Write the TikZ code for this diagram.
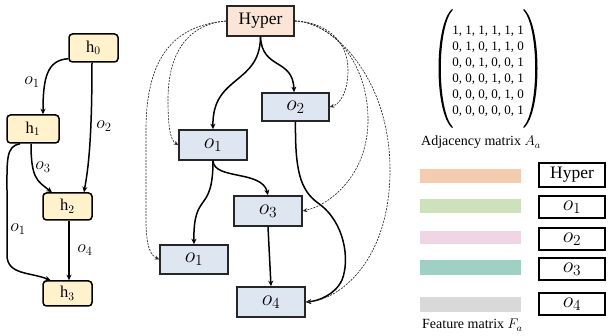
\RequirePackage{fix-cm}
\documentclass[tikz,border=0pt]{standalone}
\usepackage{fontspec}
\setmainfont{Liberation Serif}
\usetikzlibrary{arrows.meta}
\definecolor{hfill}{HTML}{FFF2CC}
\definecolor{hyperfill}{HTML}{FBE5D6}
\definecolor{ofill}{HTML}{DEE7F1}
\definecolor{barorange}{HTML}{F4CDB0}
\definecolor{bargreen}{HTML}{CDE2BC}
\definecolor{barpink}{HTML}{F0D6E4}
\definecolor{barteal}{HTML}{9ED0C4}
\definecolor{bargray}{HTML}{D9D9D9}
\begin{document}
\begin{tikzpicture}[x=1pt,y=-1pt,
  hbox/.style={draw=black, fill=hfill, rounded corners=3.5pt, line width=1.5pt, inner sep=0pt,
    minimum width=49pt, minimum height=27pt, font=\fontsize{16.5}{19}\selectfont},
  obox/.style={draw=black!85, fill=ofill, line width=1.6pt, inner sep=0pt,
    minimum width=68pt, minimum height=29pt, font=\fontsize{22}{26}\selectfont},
  hyperbox/.style={obox, fill=hyperfill, minimum width=67pt, minimum height=30pt,
    font=\fontsize{17.5}{20}\selectfont},
  featbox/.style={draw=black, fill=white, line width=1.5pt, inner sep=0pt,
    minimum width=66pt, minimum height=22pt, font=\fontsize{22}{26}\selectfont},
  elabel/.style={inner sep=0pt, font=\fontsize{18}{21}\selectfont},
  txt/.style={inner sep=0pt, anchor=base west, font=\fontsize{14}{17}\selectfont},
  arr/.style={line width=1.5pt, -{Stealth[length=5.5pt,width=5pt]}},
  darr/.style={draw=black!85, line width=0.65pt, dash pattern=on 2pt off 1.2pt,
    -{Stealth[length=4.5pt,width=4pt]}}
]
\useasboundingbox (0,0) rectangle (608,336);

% ---------- left graph ----------
\node[hbox, minimum height=28pt] (h0) at (93.5,48) {h$_0$};
\node[hbox, minimum width=52pt, minimum height=28pt] (h1) at (33,129) {h$_1$};
\node[hbox] (h2) at (67.5,206.5) {h$_2$};
\node[hbox, minimum height=25pt] (h3) at (67.5,293.5) {h$_3$};

\draw[arr] ([yshift=4pt]h0.south west) .. controls (47,60) and (43,78) .. ([xshift=10pt]h1.north);
\draw[arr] ([xshift=-1.5pt]h0.south) .. controls (92,150) and (87,175) .. ([xshift=16.5pt]h2.north);
\draw[arr] ([xshift=-2pt]h1.south) .. controls (31,178) and (37,181) .. ([xshift=-15.5pt]h2.north);
\draw[arr] ([xshift=-13pt]h1.south) .. controls (6,146) and (7,160) .. (7,190)
  -- (7,255) .. controls (7,275) and (30,272) .. ([xshift=-17pt]h3.north);
\draw[arr] ([xshift=1.5pt]h2.south) -- ([xshift=1.5pt]h3.north);

\node[elabel] (l1) at (32,82) {$o_1$};
\node[elabel] (l2) at (104,126) {$o_2$};
\node[elabel] (l3) at (43,167) {$o_3$};
\node[elabel] (l4) at (18,229) {$o_1$};
\node[elabel] (l5) at (85,250) {$o_4$};

% ---------- middle graph ----------
\node[hyperbox] (hyper) at (260.5,21) {Hyper};
\node[obox, minimum height=30pt] (oa) at (213,145) {$o_1$};
\node[obox, minimum width=67pt, minimum height=28pt] (ob) at (295.5,107) {$o_2$};
\node[obox, minimum height=30pt] (oc) at (268,211) {$o_3$};
\node[obox] (od) at (194,259.5) {$o_1$};
\node[obox, minimum height=30pt] (oe) at (271,302) {$o_4$};

\draw[arr] (hyper.south) .. controls (260,85) and (212,75) .. (oa.north);
\draw[arr] (hyper.south) .. controls (262,70) and (293,58) .. ([xshift=-1.5pt]ob.north);
\draw[arr] (oa.south) .. controls (213,215) and (193,190) .. (od.north);
\draw[arr] (oa.south) .. controls (214,180) and (262,170) .. (oc.north);
\draw[arr] (oc.south) -- (oe.north);
\draw[arr] (ob.south) .. controls (295,170) and (300,190) .. (318,203)
  .. controls (345,222) and (350,260) .. (342,280)
  .. controls (335,295) and (318,301) .. (oe.east);

\draw[darr] (hyper.west) .. controls (190,24) and (168,50) .. (168,100)
  .. controls (168,125) and (170,140) .. (oa.west);
\draw[darr] (hyper.west) .. controls (180,25) and (146,50) .. (146,130)
  -- (146,220) .. controls (146,245) and (150,255) .. (od.west);
\draw[darr] (hyper.east) .. controls (325,22) and (348,40) .. (348,70)
  .. controls (348,92) and (340,104) .. (ob.east);
\draw[darr] (hyper.east) .. controls (330,22) and (368,60) .. (368,120)
  .. controls (368,175) and (330,205) .. (oc.east);
\draw[darr] (hyper.east) .. controls (335,22) and (390,80) .. (390,170)
  .. controls (390,260) and (340,300) .. (oe.east);

% ---------- adjacency matrix ----------
\node[align=center, inner sep=0pt, font=\fontsize{13}{16}\selectfont] (adj) at (488,71)
  {1, 1, 1, 1, 1, 1\\0, 1, 0, 1, 1, 0\\0, 0, 1, 0, 0, 1\\0, 0, 0, 1, 0, 1\\0, 0, 0, 0, 1, 0\\0, 0, 0, 0, 0, 1};
\fill (452,9) .. controls (434,25) and (434,112) .. (452,128)
  -- (452.8,127.2) .. controls (436.8,110) and (436.8,27) .. (452.8,9.8) -- cycle;
\fill (524,9) .. controls (542,25) and (542,112) .. (524,128)
  -- (523.2,127.2) .. controls (539.2,110) and (539.2,27) .. (523.2,9.8) -- cycle;
\node[txt] (adjcap) at (421,146) {Adjacency matrix $A_a$};

% ---------- feature matrix ----------
\fill[barorange] (420,169) rectangle (521,183);
\fill[bargreen] (420,199) rectangle (521,213);
\fill[barpink] (420,231) rectangle (521,244);
\fill[barteal] (420,260) rectangle (521,275);
\fill[bargray] (420,297) rectangle (521,312);

\node[featbox, minimum height=24pt, font=\fontsize{17.5}{20}\selectfont] (fh) at (572,175) {Hyper};
\node[featbox] (f1) at (572,207) {$o_1$};
\node[featbox] (f2) at (572,239) {$o_2$};
\node[featbox] (f3) at (572,269) {$o_3$};
\node[featbox] (f4) at (572,304) {$o_4$};
\node[txt] (featcap) at (422,329) {Feature matrix $F_a$};
\end{tikzpicture}
\end{document}
